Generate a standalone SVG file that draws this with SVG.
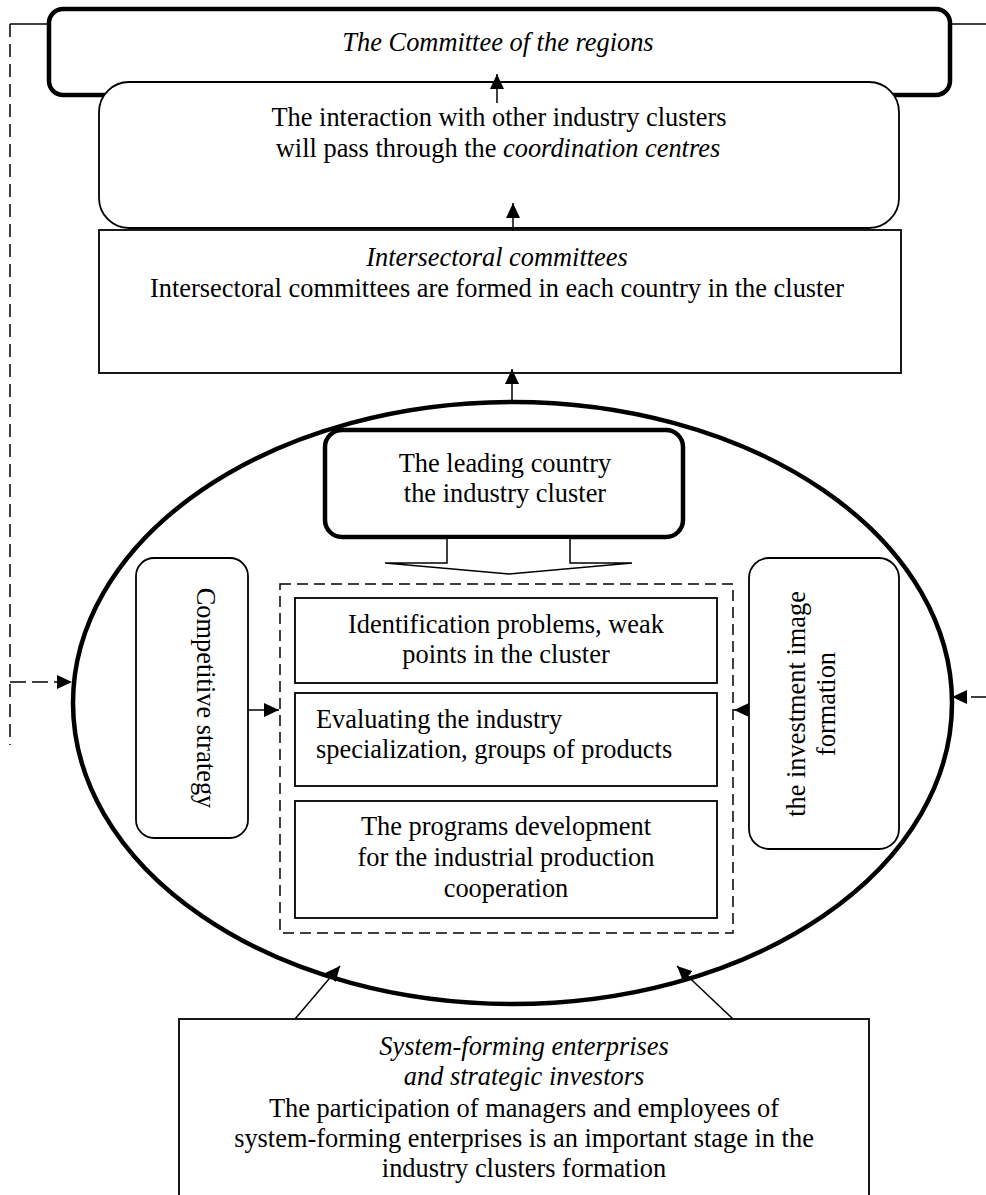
<svg xmlns="http://www.w3.org/2000/svg" width="986" height="1195" viewBox="0 0 986 1195">
<style>
text{font-family:"Liberation Serif","Times New Roman",serif;font-size:26.4px;fill:#000}
.c{text-anchor:middle}
.i{font-style:italic}
.thick{fill:#fff;stroke:#000;stroke-width:4.5}
.box{fill:#fff;stroke:#000;stroke-width:1.8}
.ln{fill:none;stroke:#000;stroke-width:1.5}
.dash{fill:none;stroke:#000;stroke-width:1.5;stroke-dasharray:13 7}
</style>
<defs>
<marker id="ah" viewBox="0 0 15 14" refX="15" refY="7" markerWidth="15" markerHeight="14" markerUnits="userSpaceOnUse" orient="auto"><path d="M0,0 L15,7 L0,14 Z" fill="#000"/></marker>
</defs>
<rect width="986" height="1195" fill="#fff"/>

<g id="committee">
<rect x="49" y="9" width="901" height="86" rx="14" class="thick"/>
<text x="498" y="51" class="c i">The Committee of the regions</text>
</g>

<g id="interaction">
<rect x="99" y="82" width="800" height="146" rx="30" class="box"/>
<text x="499" y="126" class="c">The interaction with other industry clusters</text>
<text x="498" y="157" class="c">will pass through the <tspan class="i">coordination centres</tspan></text>
</g>

<g id="intersectoral">
<rect x="99" y="230" width="802" height="143" class="box"/>
<text x="497" y="266" class="c i">Intersectoral committees</text>
<text x="497" y="297" class="c">Intersectoral committees are formed in each country in the cluster</text>
</g>

<g id="cluster">
<ellipse cx="512.5" cy="703" rx="439.5" ry="301" class="thick"/>
</g>

<g id="leading">
<rect x="325" y="430" width="358" height="107" rx="17" class="thick"/>
<text x="505" y="472" class="c">The leading country</text>
<text x="505" y="502" class="c">the industry cluster</text>
<path d="M447,539 L447,563 L385,563 L509,574 L632,563 L570,563 L570,539" class="box" style="stroke-width:1.5"/>
</g>

<g id="tasks">
<rect x="280" y="584" width="453" height="349" class="ln" style="stroke-dasharray:11 6"/>
</g>

<g id="identification">
<rect x="295" y="598" width="422" height="85" class="box"/>
<text x="506" y="633" class="c">Identification problems, weak</text>
<text x="506" y="663" class="c">points in the cluster</text>
</g>

<g id="evaluating">
<rect x="295" y="693" width="422" height="93" class="box"/>
<text x="316" y="728">Evaluating the industry</text>
<text x="316" y="758">specialization, groups of products</text>
</g>

<g id="programs">
<rect x="295" y="801" width="422" height="117" class="box"/>
<text x="506" y="835" class="c">The programs development</text>
<text x="506" y="866" class="c">for the industrial production</text>
<text x="506" y="897" class="c">cooperation</text>
</g>

<g id="competitive">
<rect x="136" y="558" width="112" height="280" rx="18" class="box"/>
<text transform="translate(197,698) rotate(90)" class="c">Competitive strategy</text>
</g>

<g id="investment">
<rect x="749" y="558" width="150" height="291" rx="20" class="box"/>
<text transform="translate(805,704) rotate(-90)" class="c">the investment image</text>
<text transform="translate(835,704) rotate(-90)" class="c">formation</text>
</g>

<g id="enterprises">
<rect x="179" y="1019" width="690" height="200" class="box"/>
<text x="524" y="1055" class="c i">System-forming enterprises</text>
<text x="524" y="1085" class="c i">and strategic investors</text>
<text x="524" y="1117" class="c">The participation of managers and employees of</text>
<text x="524" y="1147" class="c">system-forming enterprises is an important stage in the</text>
<text x="524" y="1177" class="c">industry clusters formation</text>
</g>

<g id="connectors">
<path d="M497,103 L497,74" class="ln" marker-end="url(#ah)"/>
<path d="M513,231 L513,203" class="ln" marker-end="url(#ah)"/>
<path d="M512,400 L512,369" class="ln" marker-end="url(#ah)"/>
<path d="M10,24 L49,24" class="ln"/>
<path d="M950,24 L986,24" class="ln"/>
<path d="M10,24 L10,745" class="dash"/>
<path d="M10,682 L72,682" class="ln" style="stroke-dasharray:16 6" marker-end="url(#ah)"/>
<path d="M986,697 L952,697" class="ln" style="stroke-dasharray:15 7" marker-end="url(#ah)"/>
<path d="M248,710 L279,710" class="ln" marker-end="url(#ah)"/>
<path d="M749,710 L734,710" class="ln" marker-end="url(#ah)"/>
<path d="M295,1019 L340,966" class="ln" marker-end="url(#ah)"/>
<path d="M733,1019 L677,966" class="ln" marker-end="url(#ah)"/>
</g>
</svg>
